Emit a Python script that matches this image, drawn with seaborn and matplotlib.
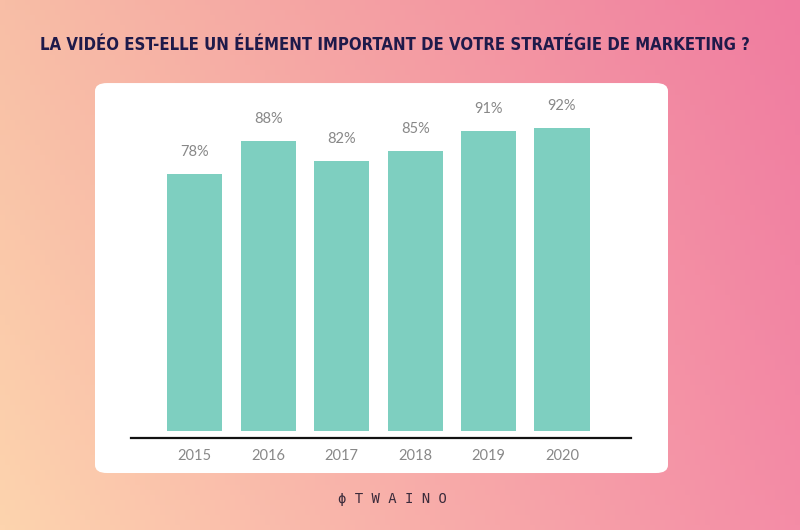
import numpy as np
import pandas as pd
import matplotlib.pyplot as plt
from matplotlib.patches import FancyBboxPatch
import seaborn as sns

years = ['2015', '2016', '2017', '2018', '2019', '2020']
values = [78, 88, 82, 85, 91, 92]
title = 'LA VIDÉO EST-ELLE UN ÉLÉMENT IMPORTANT DE VOTRE STRATÉGIE DE MARKETING ?'

df = pd.DataFrame({'Année': years, 'Part': values})

sns.set_style('white')
plt.rcParams['font.family'] = ['Lato', 'DejaVu Sans']

fig = plt.figure(figsize=(8, 5.3), dpi=100)

# gradient background
bg = fig.add_axes([0, 0, 1, 1], zorder=-10)
h, w = 106, 160
xx, yy = np.meshgrid(np.linspace(0, 1, w), np.linspace(0, 1, h))
top_left = np.array([248, 190, 166]) / 255
top_right = np.array([240, 124, 160]) / 255
bot_left = np.array([253, 212, 174]) / 255
bot_right = np.array([244, 140, 166]) / 255
img = ((1 - xx)[..., None] * ((1 - yy)[..., None] * top_left + yy[..., None] * bot_left)
       + xx[..., None] * ((1 - yy)[..., None] * top_right + yy[..., None] * bot_right))
bg.imshow(img, aspect='auto', extent=[0, 1, 0, 1], origin='upper')
bg.set_axis_off()

# white card
card = FancyBboxPatch((0.11875, 0.1075), 0.71625, 0.7358,
                      boxstyle='round,pad=0,rounding_size=0.015',
                      transform=fig.transFigure, facecolor='white',
                      edgecolor='none', zorder=-5)
fig.patches.append(card)

ax = fig.add_axes([0.16375, 0.1736, 0.625, 0.6472])
ax.set_facecolor('none')
sns.barplot(data=df, x='Année', y='Part', color='#7ECFC0', width=0.75,
            saturation=1, linewidth=0, ax=ax)

for i, v in enumerate(values):
    ax.text(i, v + 4.5, f'{v}%', ha='center', va='bottom',
            fontsize=10.5, color='#888888')

ax.set_xlim(-0.87, 5.94)
ax.set_ylim(-2.25, 102)
ax.set_xlabel('')
ax.set_ylabel('')
ax.set_yticks([])
for s in ['top', 'right', 'left']:
    ax.spines[s].set_visible(False)
ax.spines['bottom'].set_color('#111111')
ax.spines['bottom'].set_linewidth(1.6)
ax.tick_params(axis='x', length=0, pad=8, labelsize=10.5, labelcolor='#888888')

fig.text(0.494, 0.915, title, ha='center', va='center', fontsize=12,
         fontweight='bold', color='#1F1A4A', fontstretch='condensed',
         family=['DejaVu Sans'])

fig.text(0.49, 0.058, 'ϕ T W A I N O', ha='center', va='center', fontsize=10,
         color='#3a2a3a', family=['DejaVu Sans Mono'])

fig.savefig('out.png', dpi=100)
